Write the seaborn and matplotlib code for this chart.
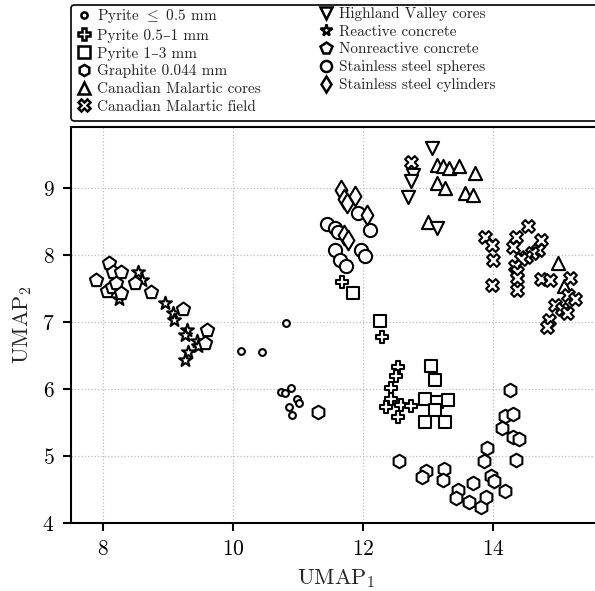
import matplotlib
matplotlib.use("Agg")
import matplotlib.pyplot as plt
import seaborn as sns
from matplotlib.patches import FancyBboxPatch
from matplotlib.lines import Line2D

# ---------------- data ----------------
labels = [r"Pyrite $\leq$ 0.5 mm", "Pyrite 0.5–1 mm", "Pyrite 1–3 mm",
          "Graphite 0.044 mm", "Canadian Malartic cores", "Canadian Malartic field",
          "Highland Valley cores", "Reactive concrete", "Nonreactive concrete",
          "Stainless steel spheres", "Stainless steel cylinders"]

pyrite_small_x = [10.81, 10.12, 10.44, 10.73, 10.80, 10.88, 10.98, 11.01, 10.85, 10.91]
pyrite_small_y = [6.98, 6.56, 6.55, 5.96, 5.94, 6.01, 5.85, 5.79, 5.73, 5.61]

pyrite_mid_x = [11.67, 12.29, 12.54, 12.50, 12.42, 12.42, 12.35, 12.58, 12.73, 12.54]
pyrite_mid_y = [7.60, 6.77, 6.33, 6.20, 6.02, 5.85, 5.73, 5.76, 5.75, 5.58]

pyrite_large_x = [11.84, 12.26, 13.04, 13.11, 12.95, 13.13, 13.30, 13.11, 12.95, 13.26]
pyrite_large_y = [7.44, 7.01, 6.34, 6.14, 5.85, 5.80, 5.84, 5.68, 5.50, 5.50]

graphite_x = [11.30, 12.55, 12.96, 12.91, 13.24, 13.22, 13.45, 13.42, 13.62, 13.81, 13.88, 13.69,
              13.85, 13.91, 13.97, 14.01, 14.18, 14.25, 14.18, 14.31, 14.13, 14.30, 14.39, 14.35]
graphite_y = [5.66, 4.92, 4.78, 4.68, 4.80, 4.64, 4.49, 4.38, 4.31, 4.24, 4.39, 4.60,
              4.92, 5.12, 4.70, 4.63, 4.48, 5.99, 5.59, 5.62, 5.42, 5.29, 5.26, 4.94]

cm_cores_x = [13.14, 13.22, 13.32, 13.47, 13.72, 13.13, 13.25, 13.56, 13.68, 13.00, 14.99, 15.08]
cm_cores_y = [9.35, 9.33, 9.30, 9.33, 9.22, 9.07, 9.00, 8.92, 8.90, 8.49, 7.88, 7.54]

cm_field_x = [12.74, 13.87, 13.98, 14.00, 13.98, 14.54, 14.35, 14.31, 14.74, 14.69, 14.59, 14.51,
              14.42, 14.33, 14.36, 14.36, 14.36, 14.74, 14.87, 15.18, 15.15, 15.26, 14.95, 15.05,
              15.13, 14.86, 14.82]
cm_field_y = [9.39, 8.27, 8.15, 7.93, 7.55, 8.44, 8.27, 8.12, 8.23, 8.07, 8.03, 7.97,
              7.94, 7.84, 7.75, 7.65, 7.48, 7.64, 7.62, 7.65, 7.40, 7.35, 7.25, 7.20,
              7.13, 7.03, 6.92]

hv_cores_x = [13.05, 12.77, 12.73, 12.69, 13.13]
hv_cores_y = [9.60, 9.20, 9.10, 8.86, 8.41]

reactive_x = [8.54, 8.59, 8.24, 8.95, 9.07, 9.08, 9.28, 9.25, 9.44, 9.46, 9.31, 9.26]
reactive_y = [7.75, 7.63, 7.35, 7.28, 7.13, 7.03, 6.88, 6.80, 6.72, 6.64, 6.55, 6.44]

nonreactive_x = [8.09, 7.88, 8.15, 8.27, 8.06, 8.13, 8.20, 8.27, 8.49, 8.74, 9.23, 9.60, 9.57]
nonreactive_y = [7.88, 7.62, 7.74, 7.74, 7.47, 7.52, 7.58, 7.44, 7.58, 7.45, 7.19, 6.88, 6.69]

spheres_x = [11.44, 11.56, 11.61, 11.92, 12.10, 11.56, 11.64, 11.74, 11.97, 12.03]
spheres_y = [8.47, 8.40, 8.35, 8.62, 8.37, 8.07, 7.93, 7.83, 8.07, 7.98]

cylinders_x = [11.66, 11.71, 11.75, 11.87, 12.05, 11.70, 11.77]
cylinders_y = [8.97, 8.83, 8.78, 8.88, 8.60, 8.30, 8.22]

xticks = [8, 10, 12, 14]
yticks = [4, 5, 6, 7, 8, 9]

# ---------------- style ----------------
sns.set_style("ticks")
plt.rcParams.update({
    "font.family": ["cmr10", "DejaVu Serif"],
    "mathtext.fontset": "cm",
    "axes.formatter.use_mathtext": True,
    "axes.unicode_minus": False,
    "axes.linewidth": 1.5,
    "xtick.major.width": 1.5,
    "ytick.major.width": 1.5,
    "xtick.major.size": 6,
    "ytick.major.size": 6,
    "xtick.color": "black",
    "ytick.color": "black",
    "axes.edgecolor": "black",
})

series = [
    (pyrite_small_x, pyrite_small_y, "o", 24),
    (pyrite_mid_x, pyrite_mid_y, "P", 85),
    (pyrite_large_x, pyrite_large_y, "s", 80),
    (graphite_x, graphite_y, "h", 95),
    (cm_cores_x, cm_cores_y, "^", 90),
    (cm_field_x, cm_field_y, "X", 85),
    (hv_cores_x, hv_cores_y, "v", 90),
    (reactive_x, reactive_y, "*", 95),
    (nonreactive_x, nonreactive_y, "p", 100),
    (spheres_x, spheres_y, "o", 90),
    (cylinders_x, cylinders_y, "d", 100),
]

fig = plt.figure(figsize=(5.95, 5.91), dpi=100)
W, H = 595, 591

box = FancyBboxPatch((71 / W, 1 - 121 / H), (640 - 71) / W, (121 - 5) / H,
                     boxstyle="round,pad=0,rounding_size=0.006",
                     transform=fig.transFigure, facecolor="white",
                     edgecolor="black", linewidth=1.2, zorder=-5)
fig.patches.append(box)

ax = fig.add_axes([71 / W, (H - 523) / H, (602 - 71) / W, (523 - 127) / H])

for (xs, ys, m, s), lab in zip(series, labels):
    sns.scatterplot(x=xs, y=ys, marker=m, s=s, color="white", edgecolor="black",
                    linewidth=1.5, ax=ax, zorder=3, legend=False)

ax.set_xlim(7.503, 7.503 + 531 / 65)
ax.set_ylim(4, 4 + 396 / 67)
ax.set_xticks(xticks)
ax.set_yticks(yticks)
ax.tick_params(labelsize=15.5, pad=6)
ax.grid(True, color="#bdbdbd", linestyle=":", linewidth=0.9)
ax.spines["right"].set_visible(False)
ax.set_xlabel(r"UMAP$_1$", fontsize=16, labelpad=6)
ax.set_ylabel(r"UMAP$_2$", fontsize=16, labelpad=6)

# ---------------- legend ----------------
def handle(m, ms):
    return Line2D([], [], marker=m, linestyle="none", markersize=ms,
                  markerfacecolor="white", markeredgecolor="black", markeredgewidth=1.8)

legend_ms = [4.5, 8, 8, 8, 8, 8, 8, 8.5, 8.5, 8, 8.5]
handles = [handle(m, ms) for (_, _, m, _), ms in zip(series, legend_ms)]

common = dict(frameon=False, fontsize=11, handlelength=0.8, handletextpad=0.45,
              labelspacing=0.25, borderpad=0, borderaxespad=0, loc="upper left",
              bbox_transform=fig.transFigure)
fig.legend(handles[:6], labels[:6], bbox_to_anchor=(78 / W, 1 - 7 / H), **common)
fig.legend(handles[6:], labels[6:], bbox_to_anchor=(320 / W, 1 - 7 / H), **common)

fig.savefig("out.png", dpi=100)
